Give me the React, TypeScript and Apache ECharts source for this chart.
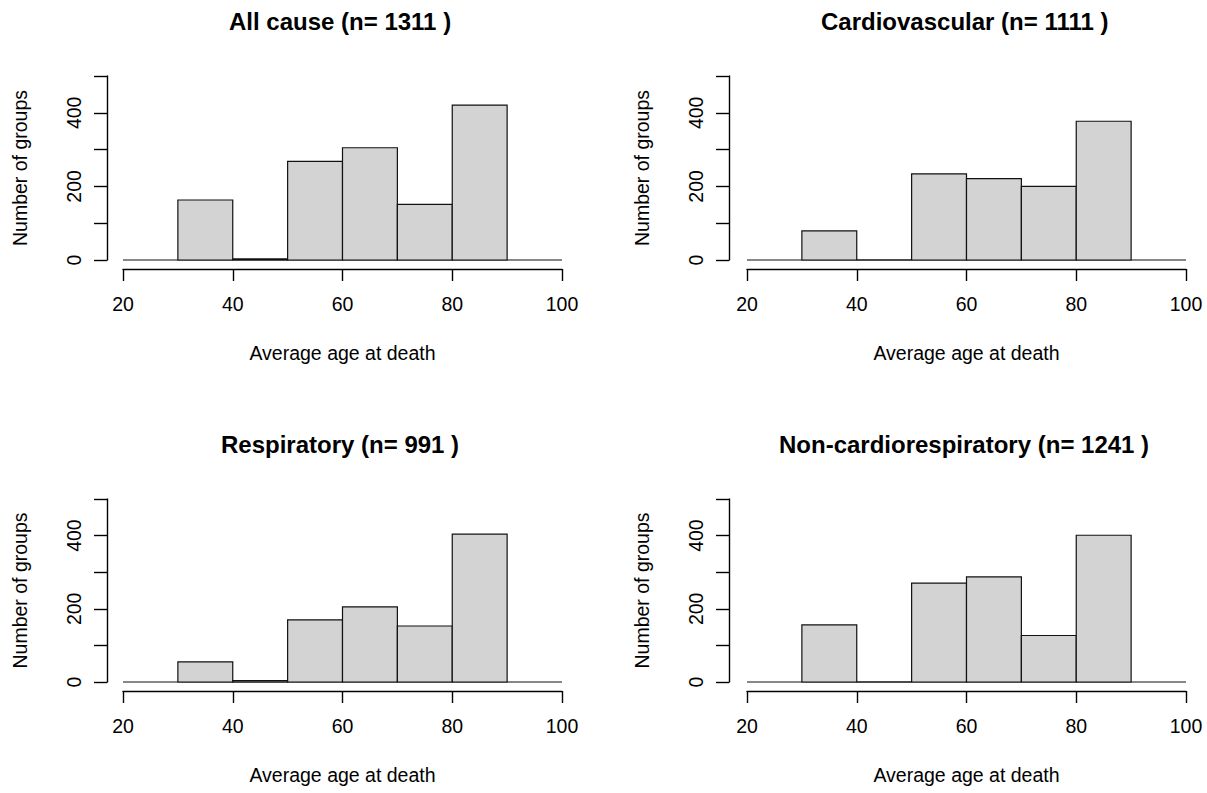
import React, { useEffect, useRef } from "react";
import * as echarts from "echarts";

// Histogram bin edges (age, years)
const binEdges = [30, 40, 50, 60, 70, 80, 90];

// Counts per bin
const allCause = [163, 3, 268, 305, 151, 421];
const cardiovascular = [79, 0, 234, 221, 200, 377];
const respiratory = [55, 4, 170, 205, 153, 404];
const nonCardiorespiratory = [156, 0, 270, 287, 127, 401];

// Panel titles and group totals
const panelNames = ["All cause", "Cardiovascular", "Respiratory", "Non-cardiorespiratory"];
const panelN = [1311, 1111, 991, 1241];

// Axis settings
const xRange = [20, 100];
const xTickStep = 20;
const yRange = [0, 500];
const yTickStep = 100;
const yLabelStep = 200;
const xAxisTitle = "Average age at death";
const yAxisTitle = "Number of groups";

const FONT = "'Liberation Sans', Arial, sans-serif";
const AXIS_FS = 19.5;
const TITLE_FS = 24;

const panelCounts = [allCause, cardiovascular, respiratory, nonCardiorespiratory];

// Layout (pixels)
const colLeft = [123, 747];
const colWidth = [439, 439];
const rowTop = [76, 499];
const rowHeight = [184, 183];
const yAxisOffset = [16, 18];
const titleMid = [21, 444];
const X_GAP = 9;
const AXIS_W = 1.4;

function textWidth(text: string, font: string): number {
  const c = document.createElement("canvas").getContext("2d");
  if (!c) return text.length * 12;
  c.font = font;
  return c.measureText(text).width;
}

export default function App() {
  const ref = useRef<HTMLDivElement>(null);

  useEffect(() => {
    if (!ref.current) return;
    const chart = echarts.init(ref.current, undefined, { renderer: "svg" });

    const grids: any[] = [];
    const xAxes: any[] = [];
    const yAxes: any[] = [];
    const series: any[] = [];
    const titles: any[] = [];
    const n = panelCounts.length;

    panelCounts.forEach((counts, i) => {
      const col = i % 2;
      const row = Math.floor(i / 2);
      const left = colLeft[col];
      const width = colWidth[col];
      const top = rowTop[row];
      const height = rowHeight[row];
      const cx = left + width / 2;

      // plot grid
      grids[i] = { left, top, width, height };
      // thin grid just below, carrying the visible x axis (line, ticks, labels, name)
      grids[n + i] = { left, top: top + height + X_GAP - 1, width, height: 1 };

      xAxes[i] = {
        gridIndex: i,
        type: "value",
        min: xRange[0],
        max: xRange[1],
        interval: xTickStep,
        show: false,
      };
      xAxes[n + i] = {
        gridIndex: n + i,
        type: "value",
        min: xRange[0],
        max: xRange[1],
        interval: xTickStep,
        position: "bottom",
        name: xAxisTitle,
        nameLocation: "middle",
        nameGap: 74,
        nameTextStyle: { color: "#000", fontSize: AXIS_FS, fontFamily: FONT },
        axisLine: { show: true, onZero: false, lineStyle: { color: "#000", width: AXIS_W } },
        axisTick: { show: true, length: 12, lineStyle: { color: "#000", width: AXIS_W } },
        axisLabel: { show: true, color: "#000", fontSize: AXIS_FS, fontFamily: FONT, margin: 25 },
        splitLine: { show: false },
      };

      yAxes[i] = {
        gridIndex: i,
        type: "value",
        min: yRange[0],
        max: yRange[1],
        interval: yTickStep,
        offset: yAxisOffset[col],
        name: yAxisTitle,
        nameLocation: "middle",
        nameRotate: 90,
        nameGap: 77,
        nameTextStyle: { color: "#000", fontSize: AXIS_FS, fontFamily: FONT },
        axisLine: { show: true, onZero: false, lineStyle: { color: "#000", width: AXIS_W } },
        axisTick: { show: true, length: 13, lineStyle: { color: "#000", width: AXIS_W } },
        axisLabel: {
          show: true,
          color: "#000",
          fontSize: AXIS_FS,
          fontFamily: FONT,
          rotate: 90,
          margin: 23,
          formatter: (v: number) => (v % yLabelStep === 0 ? String(v) : ""),
        },
        splitLine: { show: false },
      };
      yAxes[n + i] = {
        gridIndex: n + i,
        type: "value",
        min: 0,
        max: 1,
        show: false,
      };

      series.push({
        type: "custom",
        xAxisIndex: i,
        yAxisIndex: i,
        data: counts.map((c, k) => [binEdges[k], binEdges[k + 1], c]),
        encode: { x: [0, 1], y: 2 },
        z: 2,
        renderItem: (params: any, api: any) => {
          const p0 = api.coord([api.value(0), api.value(2)]);
          const p1 = api.coord([api.value(1), 0]);
          const children: any[] = [];
          if (params.dataIndex === 0) {
            const a = api.coord([xRange[0], 0]);
            const b = api.coord([xRange[1], 0]);
            children.push({
              type: "line",
              shape: { x1: a[0], y1: a[1], x2: b[0], y2: b[1] },
              style: { stroke: "#111", lineWidth: 1.2 },
            });
          }
          children.push({
            type: "rect",
            shape: { x: p0[0], y: p0[1], width: p1[0] - p0[0], height: p1[1] - p0[1] },
            style: { fill: "#D3D3D3", stroke: "#111", lineWidth: 1.2 },
          });
          return { type: "group", children };
        },
      });

      const titleText = `${panelNames[i]} (n= ${panelN[i]} )`;
      const w = textWidth(titleText, `bold ${TITLE_FS}px 'Liberation Sans', Arial, sans-serif`);
      titles.push({
        text: titleText,
        left: Math.round(cx - 2 - w / 2),
        top: titleMid[row] - TITLE_FS / 2,
        padding: 0,
        textStyle: { color: "#000", fontSize: TITLE_FS, fontWeight: "bold", fontFamily: FONT },
      });
    });

    chart.setOption({
      animation: false,
      title: titles,
      grid: grids,
      xAxis: xAxes,
      yAxis: yAxes,
      series,
    });

    return () => chart.dispose();
  }, []);

  return <div ref={ref} style={{ position: "absolute", left: 0, top: 0, width: 1207, height: 793 }} />;
}
